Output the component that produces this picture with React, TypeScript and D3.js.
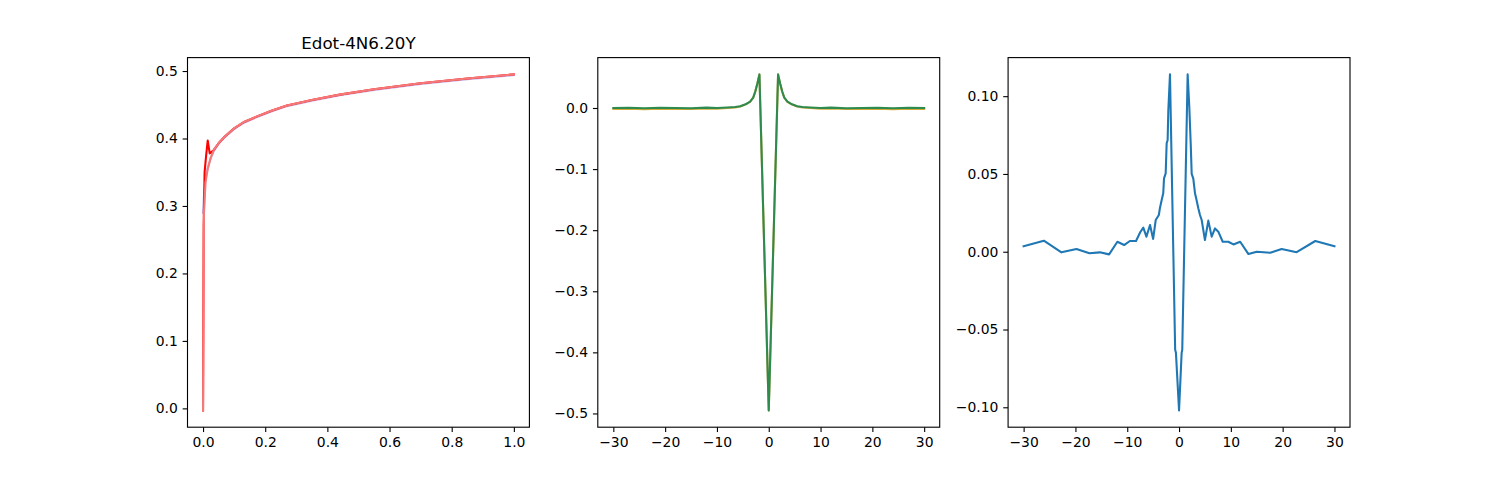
import { useEffect, useRef } from "react"
import * as d3 from "d3"

// panel 1 (Edot-4N6.20Y)
const p1X = [0, 0.003, 0.008, 0.015, 0.025, 0.035, 0.05, 0.07, 0.1, 0.13, 0.17, 0.22, 0.27, 0.35, 0.44, 0.55, 0.7, 0.85, 1.0]
const p1Main = [-0.003, 0.29, 0.335, 0.355, 0.372, 0.383, 0.393, 0.403, 0.415, 0.424, 0.432, 0.441, 0.449, 0.457, 0.465, 0.473, 0.482, 0.489, 0.495]
const p1PurpleY = [0.29, 0.315, 0.34, 0.356, 0.371, 0.382, 0.392, 0.402, 0.414, 0.423, 0.431, 0.44, 0.448, 0.456, 0.464, 0.472, 0.481, 0.488, 0.494]
const p1RedX = [0, 0.002, 0.005, 0.01, 0.015, 0.0215, 0.035, 0.05, 0.07, 0.1, 0.13, 0.17, 0.22, 0.27, 0.35, 0.44, 0.55, 0.7, 0.85, 1.0]
const p1RedY = [-0.003, 0.27, 0.35, 0.375, 0.397, 0.378, 0.383, 0.393, 0.403, 0.415, 0.424, 0.432, 0.441, 0.449, 0.457, 0.465, 0.473, 0.482, 0.489, 0.495]
const p1XTicks = [0, 0.2, 0.4, 0.6, 0.8, 1.0]
const p1YTicks = [0, 0.1, 0.2, 0.3, 0.4, 0.5]

// panel 2
const p2X = [-30, -27, -24, -21, -18, -15, -12, -10, -8, -6.5, -5.5, -4.5, -3.6, -3, -2.6, -2.2, -1.8, 0, 1.8, 2.2, 2.6, 3, 3.6, 4.5, 5.5, 6.5, 8, 10, 12, 15, 18, 21, 24, 27, 30]
const p2Green = [0, 0.0005, -0.0005, 0.0003, 0, -0.0004, 0.0006, 0, 0.0008, 0.0015, 0.003, 0.006, 0.0105, 0.017, 0.027, 0.04, 0.055, -0.495, 0.055, 0.04, 0.027, 0.017, 0.0105, 0.006, 0.003, 0.0015, 0.0008, 0, 0.0006, -0.0004, 0, 0.0003, -0.0005, 0.0005, 0]
const p2Orange = [-0.0015, -0.001, -0.0018, -0.0012, -0.0014, -0.0016, -0.0008, -0.001, 0, 0.0008, 0.0025, 0.0055, 0.0102, 0.0168, 0.0268, 0.0398, 0.0548, -0.495, 0.0548, 0.0398, 0.0268, 0.0168, 0.0102, 0.0055, 0.0025, 0.0008, 0, -0.001, -0.0008, -0.0016, -0.0014, -0.0012, -0.0018, -0.001, -0.0015]
const p2XTicks = [-30, -20, -10, 0, 10, 20, 30]
const p2YTicks = [0, -0.1, -0.2, -0.3, -0.4, -0.5]

// panel 3
const p3X = [-30, -26.1, -22.7, -19.8, -17.3, -15.3, -13.5, -11.9, -10.6, -9.5, -8.3, -7.5, -6.9, -6.3, -5.6, -5.0, -4.5, -3.9, -3.7, -3.35, -3.05, -2.9, -2.58, -2.39, -2.2, -2.07, -1.75, -0.75, -0.6, 0, 0.5, 0.62, 1.66, 1.98, 2.25, 2.44, 2.75, 3.08, 3.4, 3.72, 4.04, 4.37, 5.0, 5.65, 6.3, 6.94, 7.58, 8.43, 9.5, 10.5, 11.8, 13.4, 15.0, 17.6, 19.8, 22.7, 26.3, 30]
const p3Y = [0.0035, 0.0071, -0.0004, 0.0017, -0.001, -0.0004, -0.0017, 0.0064, 0.0043, 0.0069, 0.0069, 0.0125, 0.0155, 0.0097, 0.0172, 0.0082, 0.0204, 0.0236, 0.0279, 0.0333, 0.0376, 0.0472, 0.0504, 0.0697, 0.0718, 0.091, 0.114, -0.063, -0.065, -0.102, -0.065, -0.063, 0.114, 0.093, 0.0697, 0.05, 0.047, 0.0376, 0.033, 0.028, 0.0236, 0.0204, 0.0075, 0.02, 0.0097, 0.015, 0.0129, 0.0064, 0.0064, 0.0047, 0.0064, -0.0015, 0, -0.0006, 0.0018, -0.0003, 0.0069, 0.0035]
const p3XTicks = [-30, -20, -10, 0, 10, 20, 30]
const p3YTicks = [-0.1, -0.05, 0, 0.05, 0.1]

interface Series {
  x: number[]
  y: number[]
  color: string
  opacity?: number
}

interface Panel {
  series: Series[]
  xTicks: number[]
  yTicks: number[]
  xFmt: (v: number) => string
  yFmt: (v: number) => string
  title?: string
}

const panels: Panel[] = [
  {
    series: [
      { x: p1X, y: p1PurpleY, color: "#a68cd6", opacity: 0.7 },
      { x: p1RedX, y: p1RedY, color: "#ff0000" },
      { x: p1X, y: p1Main, color: "#f47a7a" },
    ],
    xTicks: p1XTicks,
    yTicks: p1YTicks,
    xFmt: d3.format(".1f"),
    yFmt: d3.format(".1f"),
    title: "Edot-4N6.20Y",
  },
  {
    series: [
      { x: p2X, y: p2Orange, color: "#d6a93a" },
      { x: p2X, y: p2Green, color: "#2e8b50" },
    ],
    xTicks: p2XTicks,
    yTicks: p2YTicks,
    xFmt: d3.format("d"),
    yFmt: d3.format(".1f"),
  },
  {
    series: [{ x: p3X, y: p3Y, color: "#1f77b4" }],
    xTicks: p3XTicks,
    yTicks: p3YTicks,
    xFmt: d3.format("d"),
    yFmt: d3.format(".2f"),
  },
]

const W = 1500
const H = 480
const LEFT = 187.5
const RIGHT = 1350
const TOP = 57.6
const BOTTOM = 427.2
const PW = (RIGHT - LEFT) / 3.4
const GAP = PW * 0.2

// matplotlib-style 5% margins
function padded(vals: number[]): [number, number] {
  const [lo, hi] = d3.extent(vals) as [number, number]
  const m = (hi - lo) * 0.05
  return [lo - m, hi + m]
}

export default function App() {
  const svgRef = useRef<SVGSVGElement>(null)

  useEffect(() => {
    if (!svgRef.current) return
    const svg = d3.select(svgRef.current)
    svg.selectAll("*").remove()

    svg.append("rect").attr("width", W).attr("height", H).attr("fill", "#fff")

    panels.forEach((p, i) => {
      const x0 = LEFT + i * (PW + GAP)
      const allX = p.series.flatMap((s) => s.x)
      const allY = p.series.flatMap((s) => s.y)
      const x = d3.scaleLinear().domain(padded(allX)).range([x0, x0 + PW])
      const y = d3.scaleLinear().domain(padded(allY)).range([BOTTOM, TOP])

      const g = svg.append("g")

      p.series.forEach((s) => {
        const pts: [number, number][] = s.x.map((xv, k) => [x(xv), y(s.y[k])])
        g.append("path")
          .attr("d", d3.line()(pts))
          .attr("fill", "none")
          .attr("stroke", s.color)
          .attr("stroke-opacity", s.opacity ?? 1)
          .attr("stroke-width", 2.08)
          .attr("stroke-linejoin", "round")
          .attr("stroke-linecap", "square")
      })

      // spines
      g.append("rect")
        .attr("x", x0)
        .attr("y", TOP)
        .attr("width", PW)
        .attr("height", BOTTOM - TOP)
        .attr("fill", "none")
        .attr("stroke", "#000")
        .attr("stroke-width", 1.11)

      const xAxis = d3.axisBottom(x).tickValues(p.xTicks).tickFormat((v) => p.xFmt(v as number)).tickSize(4.86).tickPadding(4.86)
      const yAxis = d3.axisLeft(y).tickValues(p.yTicks).tickFormat((v) => p.yFmt(v as number)).tickSize(4.86).tickPadding(4.86)

      const gx = g.append("g").attr("transform", `translate(0,${BOTTOM})`).call(xAxis)
      const gy = g.append("g").attr("transform", `translate(${x0},0)`).call(yAxis)
      ;[gx, gy].forEach((ax) => {
        ax.select(".domain").remove()
        ax.selectAll("line").attr("stroke", "#000").attr("stroke-width", 1.11)
        ax.selectAll("text")
          .attr("fill", "#000")
          .attr("font-family", "DejaVu Sans")
          .attr("font-size", "13.9px")
      })

      if (p.title) {
        g.append("text")
          .attr("x", x0 + PW / 2)
          .attr("y", TOP - 8.3)
          .attr("text-anchor", "middle")
          .attr("font-family", "DejaVu Sans")
          .attr("font-size", "16.7px")
          .attr("fill", "#000")
          .text(p.title)
      }
    })
  }, [])

  return <svg ref={svgRef} width={W} height={H} style={{ position: "absolute", left: 0, top: 0 }} />
}
